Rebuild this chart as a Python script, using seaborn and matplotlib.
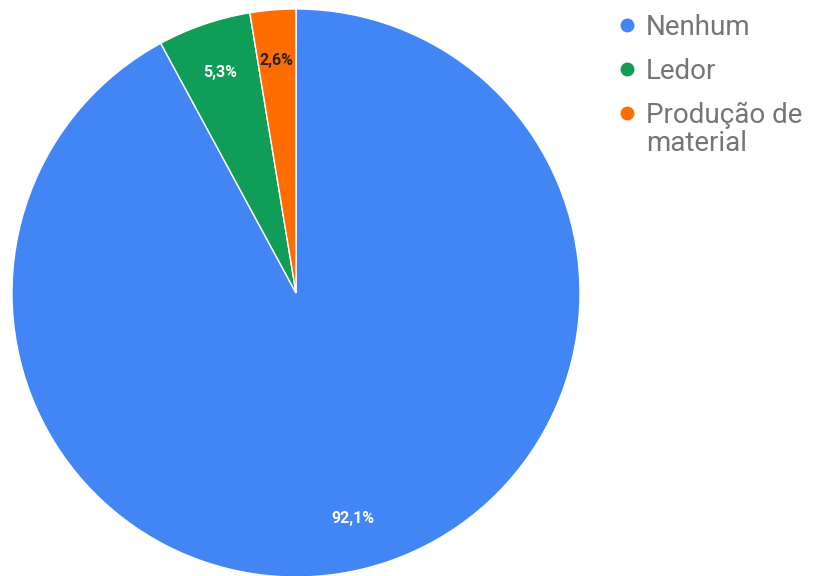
import matplotlib
matplotlib.use('Agg')
import matplotlib.pyplot as plt
from matplotlib.lines import Line2D
import seaborn as sns

# Data
categories = ['Nenhum', 'Ledor', 'Produção de\nmaterial']
values = [92.1, 5.3, 2.6]
pct_labels = ['92,1%', '5,3%', '2,6%']
colors = ['#4285F4', '#0F9D58', '#FF6D01']
text_colors = ['white', 'white', '#222222']

sns.set_style('white')
plt.rcParams['font.family'] = ['Roboto', 'DejaVu Sans']

fig = plt.figure(figsize=(8.16, 5.76), dpi=100)
ax = fig.add_axes([12 / 816, (576 - 293 - 284) / 576, 568 / 816, 568 / 576])

wedges, texts = ax.pie(values, colors=colors, startangle=90, counterclock=False,
                       labels=pct_labels, labeldistance=0.82,
                       wedgeprops=dict(edgecolor='white', linewidth=1),
                       textprops=dict(fontsize=11.5, fontweight='bold', ha='center', va='center'))
for t, c in zip(texts, text_colors):
    t.set_color(c)
    t.set_horizontalalignment('center')

ax.set_xlim(-1, 1)
ax.set_ylim(-1, 1)
ax.set_aspect('equal')
ax.axis('off')

# Legend: marker sits next to the first line of a wrapped label
first_lines = [c.split('\n')[0] for c in categories]
handles = [Line2D([0], [0], marker='o', linestyle='', markersize=9,
                  markerfacecolor=c, markeredgecolor=c) for c in colors]
leg = fig.legend(handles, first_lines, loc='upper left', bbox_to_anchor=(603 / 816, 1 - 3 / 576),
                 frameon=False, fontsize=20, labelcolor='#757575', handletextpad=0.25,
                 handlelength=0.9, labelspacing=0.6, borderaxespad=0)

fig.canvas.draw()
renderer = fig.canvas.get_renderer()
for txt, full in zip(leg.get_texts(), categories):
    rest = full.split('\n')[1:]
    if rest:
        bb = txt.get_window_extent(renderer)
        x0, y0 = fig.transFigure.inverted().transform((bb.x0, bb.y0 - 1))
        fig.text(x0, y0, '\n'.join(rest), fontsize=20, color='#757575',
                 ha='left', va='top')

fig.savefig('out.png', dpi=100)
